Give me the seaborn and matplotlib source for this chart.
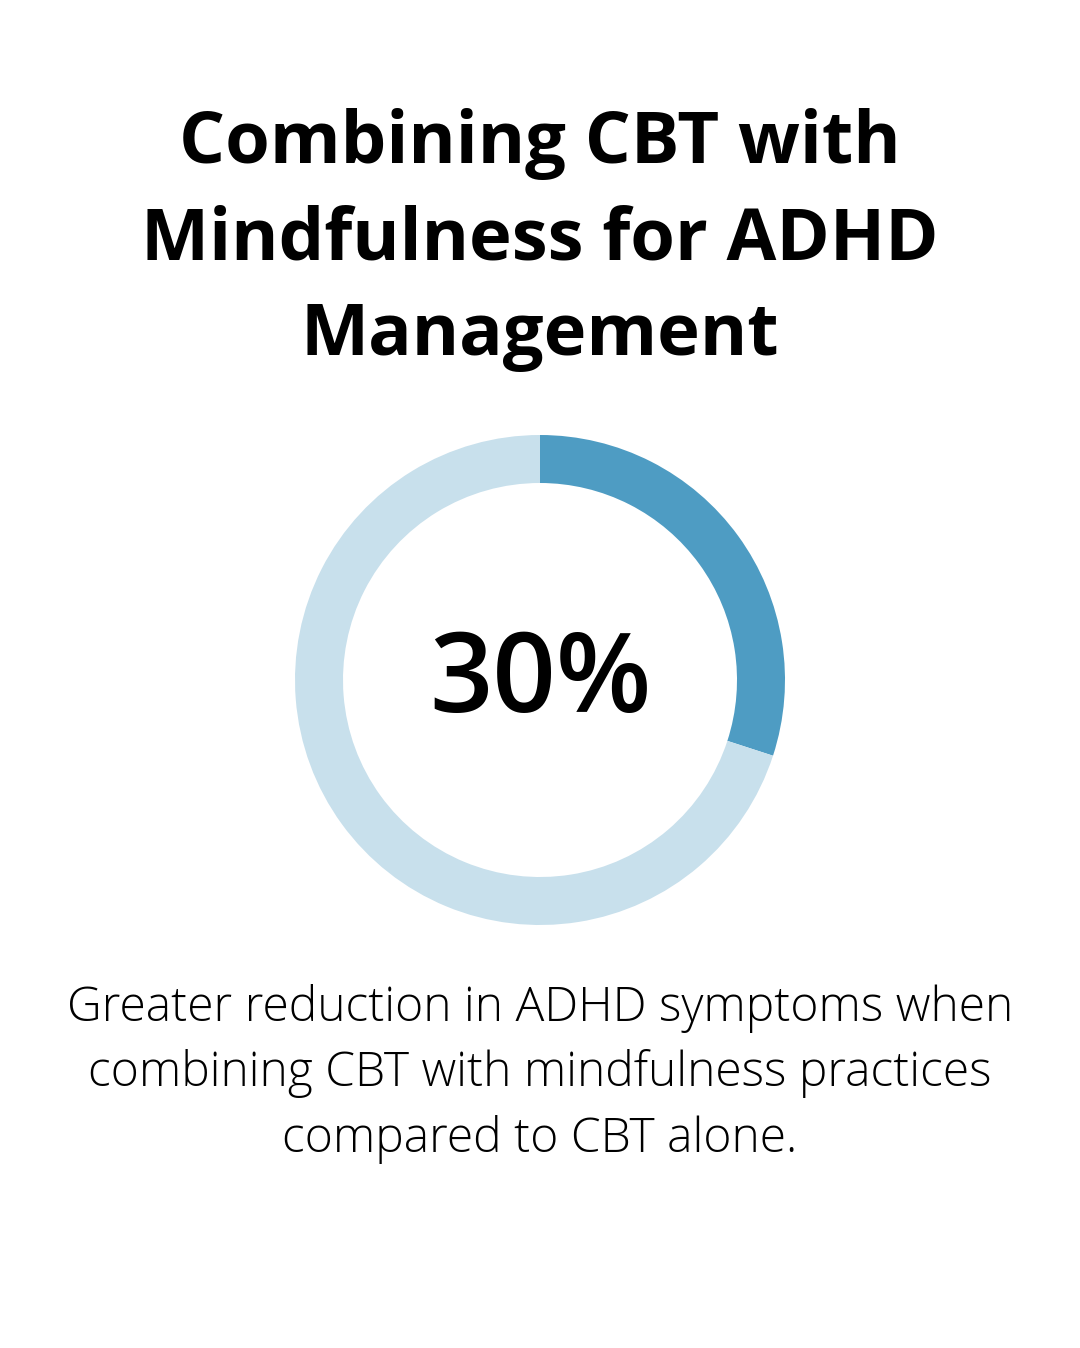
import matplotlib
matplotlib.use("Agg")
import matplotlib.pyplot as plt
import seaborn as sns

# donnees du graphique
title_lines = ["Combining CBT with", "Mindfulness for ADHD", "Management"]
share_labels = ["CBT + mindfulness", "reste"]
share_values = [30, 70]
big_label = "30%"
caption_lines = [
    "Greater reduction in ADHD symptoms when",
    "combining CBT with mindfulness practices",
    "compared to CBT alone.",
]

sns.set_theme(style="white")
plt.rcParams["font.family"] = ["Open Sans", "DejaVu Sans"]

fig = plt.figure(figsize=(10.8, 13.48), dpi=100)
fig.patch.set_facecolor("white")

# titre
fig.text(0.5, 1 - 240 / 1348, "\n".join(title_lines), ha="center", va="center",
         fontsize=52, fontweight="bold", color="black", linespacing=1.43)

# anneau
ax = fig.add_axes([295 / 1080, (1348 - 925) / 1348, 490 / 1080, 490 / 1348])
colors = ["#4E9CC3", "#C8E0EC"]
ax.pie(share_values, labels=None, colors=colors, startangle=90, counterclock=False,
       radius=1, wedgeprops=dict(width=48 / 245, edgecolor="none"))
ax.set_xlim(-1, 1)
ax.set_ylim(-1, 1)
ax.set_aspect("equal")
ax.axis("off")
ax.text(0, -0.015, big_label, ha="center", va="center", fontsize=80,
        fontweight="semibold", color="black")

# legende du bas
fig.text(0.5, 1 - 1074 / 1348, "\n".join(caption_lines), ha="center", va="center",
         fontsize=34.6, fontweight="light", color="black", linespacing=1.44)

fig.savefig("out.png", dpi=100, facecolor="white")
